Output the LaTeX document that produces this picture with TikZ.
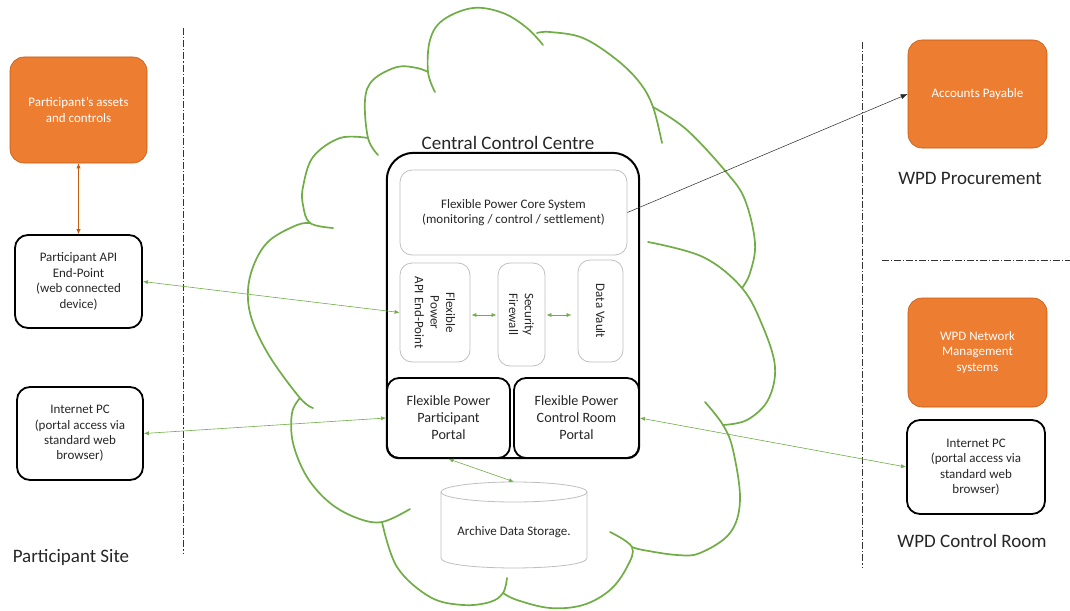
\documentclass[tikz,border=0pt]{standalone}
\usepackage{fontspec}
\setmainfont{Carlito}
\usetikzlibrary{arrows.meta}

\definecolor{cloudgreen}{HTML}{70AD47}
\definecolor{boxorange}{HTML}{ED7D31}
\definecolor{edgeorange}{HTML}{C55A11}
\definecolor{softgray}{HTML}{BFBFBF}
\definecolor{inkgray}{HTML}{262626}

\begin{document}
\begin{tikzpicture}[x=1pt,y=-1pt,
  cloudline/.style={draw=cloudgreen, line width=1.7pt, line cap=round},
  orangebox/.style={rectangle, rounded corners=14pt, fill=boxorange, draw=edgeorange,
    line width=0.6pt, text=white, align=center, font=\fontsize{13}{15.5}\selectfont},
  devicebox/.style={rectangle, rounded corners=13pt, draw=black, line width=1.8pt,
    text=inkgray, align=center, font=\fontsize{13}{15.4}\selectfont},
  innerbox/.style={rectangle, rounded corners=12pt, draw=softgray, line width=0.8pt,
    text=inkgray, align=center, font=\fontsize{13}{15.7}\selectfont},
  portalbox/.style={rectangle, rounded corners=12pt, draw=black, line width=1.8pt,
    text=inkgray, align=center, font=\fontsize{14.2}{17}\selectfont},
  biglabel/.style={text=inkgray, font=\fontsize{19}{22}\selectfont},
  sepline/.style={draw=black!80, line width=0.8pt,
    dash pattern=on 7pt off 2pt on 1.2pt off 2pt},
  greenlink/.style={draw=cloudgreen, line width=0.6pt,
    {Latex[length=5pt,width=4pt]}-{Latex[length=5pt,width=4pt]}},
  orangelink/.style={draw=edgeorange, line width=0.8pt,
    {Latex[length=5pt,width=4.5pt]}-{Latex[length=5pt,width=4.5pt]}},
  blacklink/.style={draw=black!85, line width=0.5pt, -{Latex[length=7pt,width=5pt]}},
]
\useasboundingbox (0,0) rectangle (1070,610);

% ---------- cloud outline (lobes with their inner tails) ----------
\draw[cloudline] plot[smooth, tension=0.6] coordinates
  {(435,92) (428,72) (430,40) (443,20) (473,8) (503,13) (527,28) (543,45)};
\draw[cloudline] plot[smooth, tension=0.6] coordinates
  {(537,33) (550,32) (583,38) (617,60) (640,83) (653,107) (662,143)};
\draw[cloudline] plot[smooth, tension=0.6] coordinates
  {(653,107) (687,130) (727,173) (745,200) (755,243) (750,273) (742,288)};
\draw[cloudline] plot[smooth, tension=0.6] coordinates
  {(648,242) (703,257) (742,288) (763,327) (775,367) (768,400) (747,420) (723,425)};
\draw[cloudline] plot[smooth, tension=0.6] coordinates
  {(705,402) (723,425) (733,450) (740,500) (730,533) (700,553) (677,555) (643,550) (632,547)};
\draw[cloudline] plot[smooth, tension=0.6] coordinates
  {(610,532) (632,547) (627,567) (610,590) (583,605) (550,608) (517,600) (503,593)};
\draw[cloudline] plot[smooth, tension=0.6] coordinates
  {(507,578) (503,593) (490,602) (463,605) (430,597) (397,567) (382,522)};
\draw[cloudline] plot[smooth, tension=0.6] coordinates
  {(410,509) (382,522) (357,518) (330,503) (307,477) (293,443) (292,413) (300,398)};
\draw[cloudline] plot[smooth, tension=0.6] coordinates
  {(313,408) (300,398) (270,357) (252,320) (248,290) (255,262) (270,240) (297,225) (310,223)};
\draw[cloudline] plot[smooth, tension=0.6] coordinates
  {(333,228) (310,223) (303,205) (303,187) (313,157) (340,138) (368,138)};
\draw[cloudline] plot[smooth, tension=0.6] coordinates
  {(378,155) (368,138) (365,100) (373,80) (397,67) (417,68) (428,72)};

% ---------- zone separators ----------
\draw[sepline] (183,28) -- (183,553);
\draw[sepline] (862,42) -- (862,568);
\draw[sepline] (882,260) -- (1070,260);

% ---------- participant site ----------
\node[orangebox, minimum width=137, minimum height=106] (assets) at (78.5,110)
  {Participant’s assets\\and controls};
\node[devicebox, minimum width=127, minimum height=93] (apiep) at (78.5,281.5)
  {Participant API\\End-Point\\(web connected\\device)};
\node[devicebox, minimum width=126, minimum height=93] (pcL) at (80,433.5)
  {Internet PC\\(portal access via\\standard web\\browser)};
\node[biglabel] (siteL) at (71,557) {Participant Site};

% ---------- central control centre ----------
\node[biglabel] (ccctitle) at (508,143) {Central Control Centre};
\node[minimum width=252, minimum height=305, inner sep=0pt] (ccc) at (513,305.5) {};
\draw[draw=black, line width=2pt]
  (ccc.west) [rounded corners=27pt] -- (ccc.north west) -- (ccc.north east) -- (ccc.east)
  [rounded corners=12pt] -- (ccc.south east) -- (ccc.south west) -- cycle;

\node[innerbox, minimum width=227, minimum height=85] (core) at (513.5,212.5)
  {Flexible Power Core System\\(monitoring / control / settlement)};
% the three upright boxes carry text turned a quarter clockwise
\node[innerbox, minimum width=99, minimum height=70, rotate=-90] (fpapi) at (435,312.5)
  {Flexible\\Power\\API End-Point};
\node[innerbox, minimum width=103, minimum height=47, rotate=-90] (fw) at (521.5,314.5)
  {Security\\Firewall};
\node[innerbox, minimum width=102, minimum height=45, rotate=-90] (vault) at (600.5,311)
  {Data Vault};

\node[portalbox, minimum width=123, minimum height=80] (ppor) at (448.5,418)
  {Flexible Power\\Participant\\Portal};
\node[portalbox, minimum width=125, minimum height=80] (cpor) at (576.5,418)
  {Flexible Power\\Control Room\\Portal};

% archive storage drum
\draw[draw=softgray, line width=0.8pt, fill=white]
  (441,492) -- (441,558) .. controls (441,571.3) and (587,571.3) .. (587,558) -- (587,492);
\draw[draw=softgray, line width=0.8pt, fill=white] (514,492) ellipse [x radius=73, y radius=10];
\node[minimum width=146, minimum height=100, inner sep=0pt, text=inkgray,
  font=\fontsize{13}{15.5}\selectfont] (archive) at (514,532)
  {Archive Data Storage.};

% ---------- WPD procurement ----------
\node[orangebox, minimum width=139, minimum height=108] (acct) at (977.5,94)
  {Accounts Payable};
\node[biglabel] (procL) at (970,178) {WPD Procurement};

% ---------- WPD control room ----------
\node[orangebox, minimum width=139, minimum height=109] (wpdnet) at (977.5,352.5)
  {WPD Network\\Management\\systems};
\node[devicebox, minimum width=138, minimum height=94] (pcR) at (976,467)
  {Internet PC\\(portal access via\\standard web\\browser)};
\node[biglabel] (roomL) at (972,541) {WPD Control Room};

% ---------- connectors ----------
% (on the turned boxes, south faces left and north faces right)
\draw[orangelink] (assets.south) -- (apiep.north);
\draw[greenlink] (apiep.east) -- (fpapi.south);
\draw[greenlink] (pcL.east) -- (ppor.west);
\draw[greenlink] (cpor.east) -- (pcR.west);
\draw[greenlink, shorten <=1pt, shorten >=1pt] (fpapi.north |- 0,315) -- (fw.south |- 0,315);
\draw[greenlink, shorten <=1pt, shorten >=6pt] (fw.north |- 0,315) -- (vault.south |- 0,315);
\draw[greenlink] (ppor.south) -- (archive.north);
\draw[blacklink] (core.east) -- (acct.west);

\end{tikzpicture}
\end{document}
